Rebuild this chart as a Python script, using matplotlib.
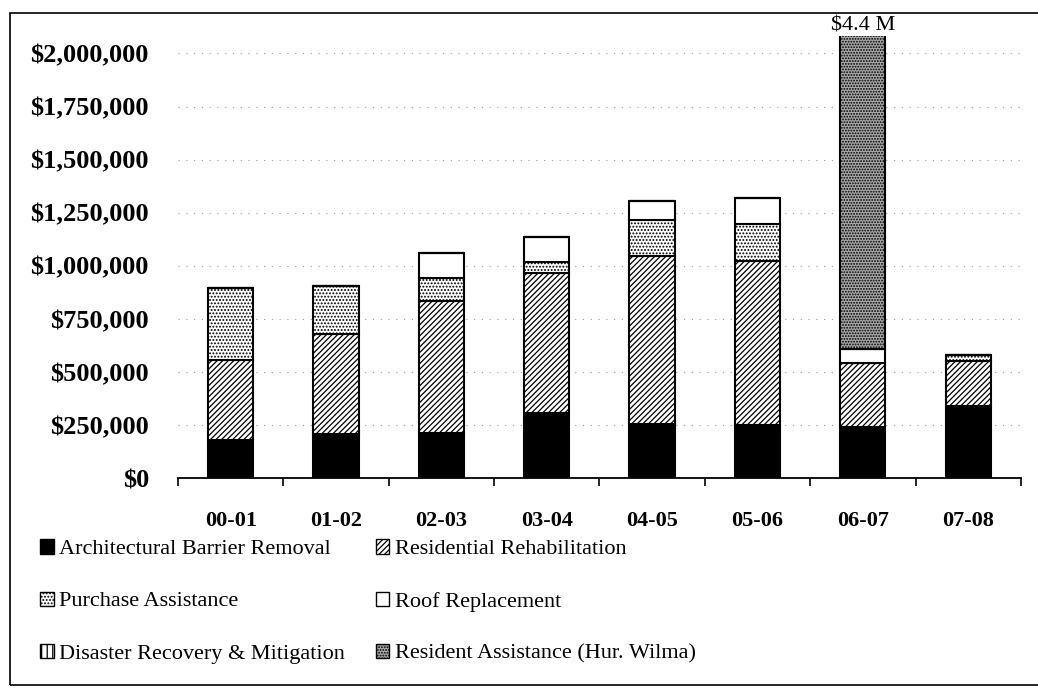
"""Housing program expenditures by fiscal year, stacked bars (scan recreation)."""
import numpy as np
import matplotlib
matplotlib.use("Agg")
import matplotlib.pyplot as plt
from matplotlib.patches import Patch, Rectangle
from matplotlib.ticker import FuncFormatter, MultipleLocator

years = ["00-01", "01-02", "02-03", "03-04", "04-05", "05-06", "06-07", "07-08"]
arch_barrier = [178000, 206000, 215000, 308000, 257000, 252000, 243000, 341000]
rehab = [378000, 472000, 617000, 659000, 790000, 771000, 299000, 210000]
purchase = [341000, 229000, 112000, 51000, 168000, 173000, 0, 28000]
roof = [0, 0, 117000, 117000, 89000, 122000, 65000, 0]
disaster = [0, 0, 0, 0, 0, 0, 0, 0]
wilma = [0, 0, 0, 0, 0, 0, 3793000, 0]
series_names = ["Architectural Barrier Removal", "Residential Rehabilitation",
                "Purchase Assistance", "Roof Replacement",
                "Disaster Recovery & Mitigation", "Resident Assistance (Hur. Wilma)"]
big_label = "$4.4 M"

plt.rcParams["font.family"] = ["Liberation Serif", "DejaVu Serif"]
plt.rcParams["hatch.linewidth"] = 0.9

# face colour / hatch per series, same order as series_names
styles = [("black", None), ("white", "//////"), ("white", "....."),
          ("white", None), ("white", "|||"), ("#a8a8a8", "......")]
data = [arch_barrier, rehab, purchase, roof, disaster, wilma]

fig = plt.figure(figsize=(10.38, 6.88), dpi=100)
fig.patches.append(Rectangle((0.01, 0.004), 1.2, 0.977, transform=fig.transFigure,
                             fill=False, edgecolor="black", lw=1.2))
ax = fig.add_axes([0.1715, 0.305, 0.812, 0.642])

x = np.arange(len(years))
bottom = np.zeros(len(years))
for vals, (fc, hatch) in zip(data, styles):
    vals = np.array(vals, dtype=float)
    ax.bar(x, vals, 0.43, bottom=bottom, color=fc, hatch=hatch,
           edgecolor="black", linewidth=1.5)
    bottom += vals

ax.annotate(big_label, xy=(6, 2.08e6), xytext=(0, 1), textcoords="offset points",
            ha="center", va="bottom", fontsize=16, annotation_clip=False)

ax.set_xlim(-0.5, len(years) - 0.5)
ax.set_ylim(0, 2.08e6)
ax.yaxis.set_major_locator(MultipleLocator(250000))
ax.yaxis.set_major_formatter(FuncFormatter(lambda v, p: f"${v:,.0f}"))
ax.yaxis.grid(True, linestyle=(0, (1, 6)), color="#999999", lw=0.8)
ax.set_axisbelow(True)
ax.set_xticks(x)
ax.set_xticklabels(years, fontweight="bold", fontsize=16)
ax.set_xticks(np.arange(-0.5, len(years)), minor=True)
ax.tick_params(axis="x", which="major", length=0, pad=24)
ax.tick_params(axis="x", which="minor", length=6, width=1.2, direction="out")
ax.tick_params(axis="y", length=0, pad=21, labelsize=19)
for lab in ax.get_yticklabels():
    lab.set_fontweight("bold")
for side in ["left", "right", "top"]:
    ax.spines[side].set_visible(False)
ax.spines["bottom"].set_linewidth(1.3)

handles = [Patch(facecolor=fc, hatch=h, edgecolor="black", lw=1.0) for fc, h in styles]
order = [0, 2, 4, 1, 3, 5]
fig.legend([handles[i] for i in order], [series_names[i] for i in order],
           loc="upper left", bbox_to_anchor=(0.028, 0.232), ncol=2, frameon=False,
           fontsize=16, handlelength=0.6, handleheight=0.6, handletextpad=0.25,
           columnspacing=1.4, labelspacing=1.45, borderpad=0)

fig.savefig("out.png", dpi=100)
